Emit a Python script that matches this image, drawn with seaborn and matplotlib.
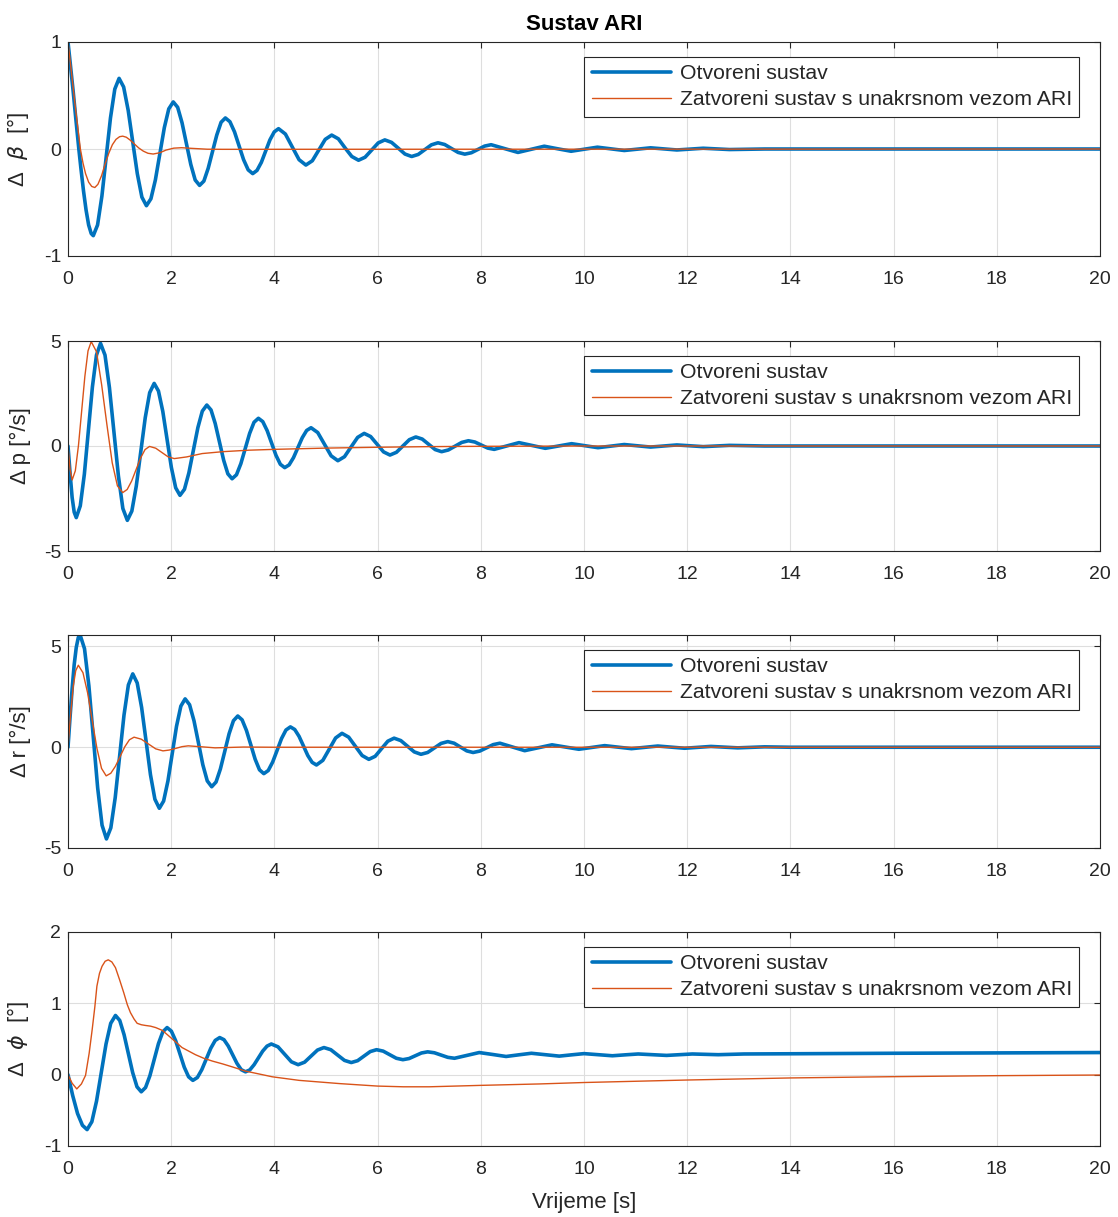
import matplotlib
matplotlib.use("Agg")
import matplotlib.pyplot as plt
import seaborn as sns

# ---- data (time in s) ----
t_beta_open = [0, 0.05, 0.1, 0.15, 0.21, 0.25, 0.3, 0.35, 0.4, 0.45, 0.49,
               0.573, 0.657, 0.74, 0.823, 0.907, 0.99,
               1.078, 1.167, 1.255, 1.343, 1.432, 1.52,
               1.607, 1.693, 1.78, 1.867, 1.953, 2.04,
               2.125, 2.21, 2.295, 2.38, 2.465, 2.55,
               2.633, 2.717, 2.8, 2.883, 2.967, 3.05,
               3.138, 3.227, 3.315, 3.403, 3.492, 3.58,
               3.663, 3.747, 3.83, 3.913, 3.997, 4.08,
               4.213, 4.345, 4.478, 4.61,
               4.735, 4.86, 4.985, 5.11,
               5.24, 5.37, 5.5, 5.63,
               5.757, 5.885, 6.012, 6.14,
               6.27, 6.4, 6.53, 6.66,
               6.787, 6.915, 7.043, 7.17,
               7.3, 7.43, 7.56, 7.69,
               7.817, 7.945, 8.073, 8.2,
               8.46, 8.72, 8.975, 9.23, 9.49, 9.75, 10.005, 10.26, 10.78, 11.29,
               11.8, 12.31, 12.82, 13.5, 20]
beta_open = [1.0, 0.77, 0.54, 0.29, 0.0, -0.18, -0.39, -0.57, -0.71, -0.79, -0.81,
             -0.71, -0.44, -0.075, 0.29, 0.56, 0.66,
             0.58, 0.36, 0.065, -0.23, -0.45, -0.53,
             -0.465, -0.29, -0.045, 0.2, 0.375, 0.44,
             0.39, 0.245, 0.05, -0.145, -0.29, -0.34,
             -0.30, -0.18, -0.025, 0.13, 0.25, 0.29,
             0.255, 0.16, 0.03, -0.10, -0.195, -0.23,
             -0.20, -0.125, -0.02, 0.085, 0.16, 0.19,
             0.14, 0.02, -0.10, -0.15,
             -0.11, -0.01, 0.09, 0.13,
             0.095, 0.01, -0.07, -0.105,
             -0.077, -0.01, 0.057, 0.085,
             0.062, 0.008, -0.047, -0.07,
             -0.051, -0.006, 0.039, 0.058,
             0.042, 0.005, -0.032, -0.048,
             -0.035, -0.004, 0.027, 0.04,
             0.004, -0.032, -0.003, 0.026, 0.002, -0.021, -0.002, 0.017, -0.014, 0.011,
             -0.009, 0.007, -0.005, 0.0, 0.0]
t_beta_ari = [0, 0.05, 0.1, 0.15, 0.2, 0.24, 0.29, 0.34, 0.4, 0.46, 0.52, 0.58, 0.65,
              0.72, 0.79, 0.86, 0.93, 1.0, 1.06, 1.13, 1.2, 1.28, 1.37, 1.46, 1.55,
              1.65, 1.78, 1.9, 2.05, 2.2, 2.4, 2.7, 3.0, 20]
beta_ari = [1.0, 0.79, 0.57, 0.36, 0.16, 0.0, -0.13, -0.23, -0.31, -0.35, -0.36, -0.33, -0.25,
            -0.14, -0.04, 0.04, 0.09, 0.115, 0.12, 0.11, 0.085, 0.05, 0.01, -0.02, -0.04,
            -0.047, -0.035, -0.01, 0.008, 0.012, 0.006, -0.002, -0.003, 0.0]

t_p_open = [0, 0.04, 0.08, 0.12, 0.16,
            0.238, 0.317, 0.395, 0.473, 0.552, 0.63,
            0.717, 0.803, 0.89, 0.977, 1.063, 1.15,
            1.237, 1.323, 1.41, 1.497, 1.583, 1.67,
            1.753, 1.837, 1.92, 2.003, 2.087, 2.17,
            2.257, 2.343, 2.43, 2.517, 2.603, 2.69,
            2.772, 2.853, 2.935, 3.017, 3.098, 3.18,
            3.265, 3.35, 3.435, 3.52, 3.605, 3.69,
            3.775, 3.86, 3.945, 4.03, 4.115, 4.2,
            4.285, 4.37, 4.455, 4.54, 4.625, 4.71,
            4.84, 4.97, 5.1, 5.23,
            5.358, 5.485, 5.613, 5.74,
            5.865, 5.99, 6.115, 6.24,
            6.365, 6.49, 6.615, 6.74,
            6.865, 6.99, 7.115, 7.24,
            7.37, 7.5, 7.63, 7.76,
            7.885, 8.01, 8.135, 8.26,
            8.5, 8.74, 8.995, 9.25, 9.505, 9.76, 10.015, 10.27, 10.525, 10.78,
            11.29, 11.8, 12.31, 12.82, 13.5, 20]
p_open = [0.0, -1.3, -2.45, -3.15, -3.41,
          -2.85, -1.34, 0.74, 2.815, 4.33, 4.89,
          4.33, 2.78, 0.675, -1.43, -2.975, -3.54,
          -3.10, -1.91, -0.28, 1.35, 2.54, 2.98,
          2.62, 1.65, 0.315, -1.02, -1.99, -2.35,
          -2.06, -1.275, -0.2, 0.875, 1.66, 1.95,
          1.715, 1.07, 0.195, -0.68, -1.325, -1.56,
          -1.37, -0.84, -0.12, 0.6, 1.13, 1.32,
          1.16, 0.73, 0.145, -0.44, -0.87, -1.03,
          -0.90, -0.555, -0.08, 0.395, 0.74, 0.87,
          0.64, 0.085, -0.47, -0.70,
          -0.51, -0.05, 0.41, 0.60,
          0.45, 0.085, -0.28, -0.43,
          -0.30, 0.0, 0.30, 0.43,
          0.33, 0.08, -0.17, -0.27,
          -0.19, -0.01, 0.17, 0.25,
          0.19, 0.045, -0.10, -0.16,
          0.0, 0.16, 0.025, -0.11, 0.0, 0.11, 0.015, -0.08, -0.005, 0.07,
          -0.05, 0.05, -0.03, 0.03, 0.0, 0.0]
t_p_ari = [0, 0.04, 0.08, 0.142, 0.203, 0.265, 0.327, 0.388, 0.45, 0.552, 0.653, 0.755,
           0.857, 0.958, 1.06, 1.147, 1.233, 1.32, 1.407, 1.493, 1.58, 1.70, 1.82, 1.94,
           2.06, 2.3, 2.6, 3.0, 3.5, 4.0, 5.0, 6.0, 7.0, 8.0, 10.0, 20]
p_ari = [0, -1.1, -1.62, -1.18, 0.03, 1.675, 3.32, 4.53, 4.97, 4.49, 2.9, 1.0,
         -0.8, -1.9, -2.22, -2.07, -1.67, -1.12, -0.57, -0.17, -0.02, -0.105, -0.31, -0.515,
         -0.6, -0.52, -0.36, -0.27, -0.2, -0.16, -0.1, -0.06, -0.03, -0.015, 0.0, 0.0]

t_r_open = [0, 0.04, 0.08, 0.12, 0.16, 0.2, 0.235,
            0.32, 0.405, 0.49, 0.575, 0.66, 0.745,
            0.83, 0.915, 1.0, 1.085, 1.17, 1.255,
            1.341, 1.427, 1.513, 1.598, 1.684, 1.77,
            1.853, 1.937, 2.02, 2.103, 2.187, 2.27,
            2.356, 2.442, 2.528, 2.613, 2.699, 2.785,
            2.869, 2.953, 3.038, 3.122, 3.206, 3.29,
            3.374, 3.458, 3.543, 3.627, 3.711, 3.795,
            3.881, 3.967, 4.053, 4.138, 4.224, 4.31,
            4.394, 4.478, 4.563, 4.647, 4.731, 4.815,
            4.939, 5.063, 5.186, 5.31,
            5.44, 5.57, 5.7, 5.83,
            5.953, 6.075, 6.198, 6.32,
            6.45, 6.58, 6.71, 6.84,
            6.97, 7.1, 7.23, 7.36,
            7.483, 7.605, 7.728, 7.85,
            7.98, 8.11, 8.24, 8.37,
            8.61, 8.85, 9.115, 9.38, 9.64, 9.9, 10.15, 10.4, 10.92, 11.43,
            11.95, 12.46, 12.98, 13.5, 14.0, 20]
r_open = [0.0, 1.5, 2.9, 4.1, 4.95, 5.45, 5.57,
          4.89, 3.04, 0.51, -2.02, -3.87, -4.55,
          -4.0, -2.50, -0.455, 1.59, 3.09, 3.64,
          3.19, 1.97, 0.305, -1.36, -2.58, -3.03,
          -2.67, -1.67, -0.315, 1.04, 2.04, 2.40,
          2.11, 1.31, 0.22, -0.87, -1.67, -1.96,
          -1.725, -1.08, -0.205, 0.67, 1.315, 1.55,
          1.36, 0.835, 0.12, -0.595, -1.12, -1.31,
          -1.155, -0.73, -0.15, 0.43, 0.855, 1.01,
          0.88, 0.54, 0.065, -0.41, -0.75, -0.88,
          -0.65, -0.095, 0.46, 0.69,
          0.50, 0.045, -0.41, -0.60,
          -0.45, -0.075, 0.30, 0.45,
          0.33, 0.05, -0.23, -0.35,
          -0.26, -0.035, 0.19, 0.28,
          0.20, 0.01, -0.18, -0.26,
          -0.19, -0.03, 0.13, 0.20,
          0.015, -0.17, -0.025, 0.12, 0.01, -0.10, -0.01, 0.08, -0.07, 0.06,
          -0.05, 0.04, -0.03, 0.02, 0.0, 0.0]
t_r_ari = [0, 0.05, 0.1, 0.15, 0.2, 0.29, 0.38, 0.47, 0.56, 0.65, 0.74, 0.83, 0.92, 1.01,
           1.10, 1.19, 1.28, 1.42, 1.56, 1.70, 1.84, 1.96, 2.09, 2.21, 2.33, 2.6, 2.85,
           3.4, 4.0, 20]
r_ari = [0, 1.6, 3.0, 3.8, 4.07, 3.70, 2.70, 1.325, -0.05, -1.05, -1.42, -1.29, -0.94, -0.46,
         0.02, 0.37, 0.5, 0.40, 0.16, -0.08, -0.18, -0.14, -0.055, 0.03, 0.07, 0.02, -0.03,
         0.01, 0.0, 0.0]

t_phi_open = [0, 0.09, 0.185, 0.28, 0.37,
              0.462, 0.553, 0.645, 0.737, 0.828, 0.92,
              1.003, 1.087, 1.17, 1.253, 1.337, 1.42,
              1.503, 1.587, 1.67, 1.753, 1.837, 1.92,
              2.003, 2.087, 2.17, 2.253, 2.337, 2.42,
              2.507, 2.593, 2.68, 2.767, 2.853, 2.94,
              3.023, 3.107, 3.19, 3.273, 3.357, 3.44,
              3.523, 3.607, 3.69, 3.773, 3.857, 3.94,
              4.07, 4.2, 4.33, 4.46,
              4.585, 4.71, 4.835, 4.96,
              5.093, 5.225, 5.358, 5.49,
              5.613, 5.735, 5.858, 5.98,
              6.108, 6.235, 6.363, 6.49,
              6.61, 6.73, 6.85, 6.97,
              7.1, 7.23, 7.36, 7.49,
              7.73, 7.97, 8.23, 8.49, 8.735, 8.98, 9.25, 9.52, 9.76, 10.0, 10.275,
              10.55, 10.8, 11.05, 11.6, 12.1, 12.6, 13.1, 14.0, 16.0, 18.0, 20.0]
phi_open = [0.0, -0.29, -0.545, -0.71, -0.77,
            -0.66, -0.37, 0.03, 0.43, 0.72, 0.83,
            0.76, 0.56, 0.295, 0.03, -0.17, -0.24,
            -0.18, -0.015, 0.21, 0.435, 0.60, 0.66,
            0.61, 0.475, 0.29, 0.105, -0.03, -0.08,
            -0.04, 0.07, 0.22, 0.37, 0.48, 0.52,
            0.49, 0.40, 0.28, 0.16, 0.07, 0.04,
            0.066, 0.14, 0.235, 0.33, 0.40, 0.43,
            0.39, 0.285, 0.18, 0.14,
            0.175, 0.26, 0.345, 0.38,
            0.35, 0.275, 0.20, 0.17,
            0.196, 0.26, 0.324, 0.35,
            0.33, 0.28, 0.23, 0.21,
            0.226, 0.265, 0.304, 0.32,
            0.307, 0.275, 0.243, 0.23,
            0.27, 0.31, 0.283, 0.255, 0.278, 0.30, 0.28, 0.26, 0.278, 0.295, 0.28,
            0.265, 0.278, 0.29, 0.27, 0.29, 0.28, 0.29, 0.293, 0.30, 0.305, 0.31]
t_phi_ari = [0, 0.08, 0.17, 0.26, 0.34, 0.41, 0.47, 0.52, 0.56, 0.61, 0.66, 0.72, 0.78,
             0.85, 0.92, 1.0, 1.08, 1.15, 1.21, 1.28, 1.34, 1.42, 1.5, 1.6, 1.7, 1.83,
             1.99, 2.1, 2.21, 2.34, 2.47, 2.63, 2.8, 3.0, 3.18, 3.44, 3.7, 3.96, 4.48,
             5.26, 6.0, 6.5, 7.0, 8.0, 9.14, 10.0, 12.0, 14.0, 16.0, 18.0, 20.0]
phi_ari = [0, -0.12, -0.2, -0.13, -0.01, 0.3, 0.64, 0.95, 1.24, 1.42, 1.52, 1.59, 1.61,
           1.58, 1.5, 1.33, 1.15, 0.98, 0.87, 0.78, 0.72, 0.70, 0.69, 0.68, 0.66, 0.62,
           0.52, 0.45, 0.38, 0.33, 0.28, 0.23, 0.19, 0.15, 0.11, 0.05, 0.01, -0.03, -0.08,
           -0.125, -0.16, -0.17, -0.17, -0.15, -0.13, -0.11, -0.075, -0.046, -0.028,
           -0.014, -0.005]

ylabels = ["Δ  $\\beta$  [°]", "Δ p [°/s]", "Δ r [°/s]", "Δ  $\\phi$  [°]"]
ylims = [(-1, 1), (-5, 5), (-5, 5.57), (-1, 2)]
yticks = [[-1, 0, 1], [-5, 0, 5], [-5, 0, 5], [-1, 0, 1, 2]]
xticks = list(range(0, 21, 2))
legend_labels = ["Otvoreni sustav", "Zatvoreni sustav s unakrsnom vezom ARI"]

panels = [
    (t_beta_open, beta_open, t_beta_ari, beta_ari),
    (t_p_open, p_open, t_p_ari, p_ari),
    (t_r_open, r_open, t_r_ari, r_ari),
    (t_phi_open, phi_open, t_phi_ari, phi_ari),
]

BLUE = "#0072BD"
ORANGE = "#D95319"
DARK = "#262626"

sns.set_theme(style="whitegrid")
plt.rcParams["font.family"] = ["Liberation Sans", "DejaVu Sans"]
plt.rcParams["mathtext.fontset"] = "dejavusans"
plt.rcParams["axes.unicode_minus"] = False

fig = plt.figure(figsize=(11.18, 12.17), dpi=100)
W, H = 1118, 1217
# axes boxes in pixels: (top, bottom)
boxes = [(42, 256), (341, 551), (635, 848), (932, 1146)]
left, right = 68, 1100

for i, ((to, vo, tc, vc), (top, bot)) in enumerate(zip(panels, boxes)):
    ax = fig.add_axes([left / W, 1 - bot / H, (right - left) / W, (bot - top) / H])
    sns.lineplot(x=to, y=vo, ax=ax, color=BLUE, linewidth=2.6, label=legend_labels[0])
    sns.lineplot(x=tc, y=vc, ax=ax, color=ORANGE, linewidth=1.0, label=legend_labels[1])
    ax.set_xlim(0, 20)
    ax.set_ylim(*ylims[i])
    ax.set_xticks(xticks)
    ax.set_yticks(yticks[i])
    ax.grid(True, color="#dedede", linewidth=0.8)
    for s in ax.spines.values():
        s.set_color(DARK)
        s.set_linewidth(0.8)
    ax.tick_params(direction="in", top=True, right=True, length=4, width=0.8,
                   color=DARK, labelcolor=DARK, labelsize=14)
    ax.tick_params(axis="x", pad=11)
    ax.tick_params(axis="y", pad=5)
    ax.set_ylabel(ylabels[i], fontsize=16, color=DARK)
    ax.yaxis.set_label_coords(-0.036, 0.5)
    ax.set_xlabel("")
    leg = ax.legend(loc="upper right", bbox_to_anchor=(0.98, 0.93), borderaxespad=0,
                    fontsize=15.3, handlelength=3.75, handletextpad=0.4, borderpad=0.35,
                    labelspacing=0.32, fancybox=False, framealpha=1, edgecolor=DARK)
    leg.get_frame().set_linewidth(0.8)
    if i == 0:
        ax.set_title("Sustav ARI", fontsize=16, fontweight="bold", color="black", pad=9)
    if i == 3:
        ax.set_xlabel("Vrijeme [s]", fontsize=16, color=DARK, labelpad=10)

fig.savefig("out.png", dpi=100)
